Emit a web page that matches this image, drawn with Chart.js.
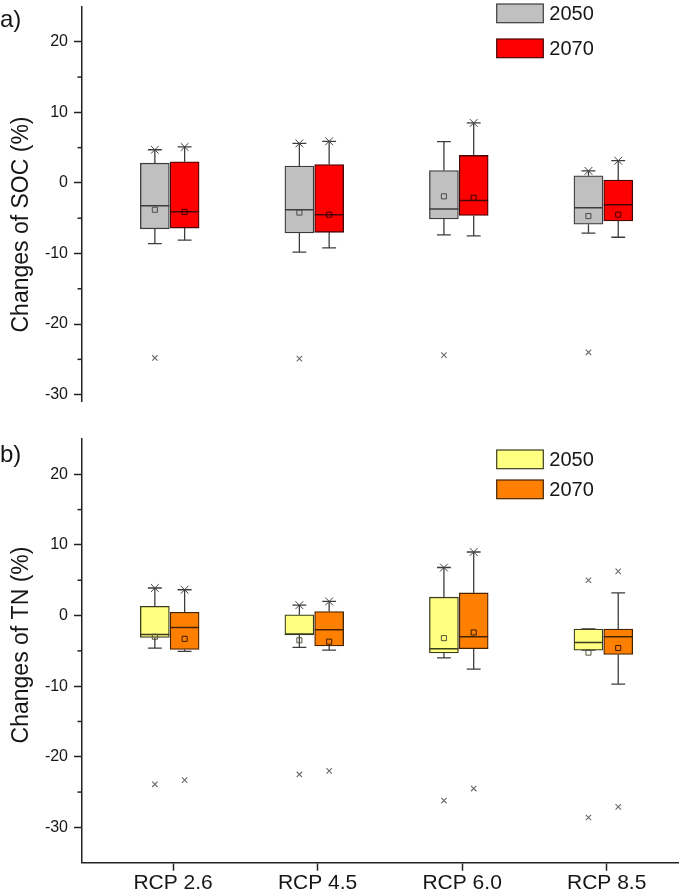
<!DOCTYPE html>
<html>
<head>
<meta charset="utf-8">
<script src="https://cdn.jsdelivr.net/npm/chart.js@4/dist/chart.umd.min.js"></script>
<style>
html,body{margin:0;padding:0;background:#fff;overflow:hidden;}
#wrap{position:relative;width:685px;height:894px;}
.panel{position:absolute;left:0;width:685px;}
</style>
</head>
<body>
<div id="wrap">
  <div class="panel" style="top:0;height:420px"><canvas id="c1" width="685" height="420"></canvas></div>
  <div class="panel" style="top:420px;height:474px"><canvas id="c2" width="685" height="474"></canvas></div>
</div>
<script>
// ---------------- DATA ----------------
const categories = ['RCP 2.6', 'RCP 4.5', 'RCP 6.0', 'RCP 8.5'];
const seriesNames = ['2050', '2070'];
const yTickLabels = [-30, -20, -10, 0, 10, 20];
const yMinorTicks = [-25, -15, -5, 5, 15];

// a) Changes of SOC (%)
const soc2050Low      = [-8.6, -9.8, -7.35, -7.1];
const soc2050Q1       = [-6.5, -7.1, -5.1, -5.85];
const soc2050Median   = [-3.25, -3.8, -3.7, -3.5];
const soc2050Q3       = [2.8, 2.4, 1.75, 1.0];
const soc2050High     = [4.7, 5.6, 5.85, 1.7];
const soc2050Mean     = [-3.8, -4.2, -1.9, -4.7];
const soc2050HighMark = [4.7, 5.6, null, 1.7];
const soc2050Outliers = [[-24.8], [-24.9], [-24.4], [-24.0]];

const soc2070Low      = [-8.1, -9.2, -7.5, -7.7];
const soc2070Q1       = [-6.4, -7.0, -4.6, -5.4];
const soc2070Median   = [-4.1, -4.5, -2.5, -3.1];
const soc2070Q3       = [3.0, 2.6, 3.9, 0.4];
const soc2070High     = [5.1, 5.9, 8.5, 3.15];
const soc2070Mean     = [-4.1, -4.5, -2.1, -4.5];
const soc2070HighMark = [5.1, 5.9, 8.5, 3.15];
const soc2070Outliers = [[], [], [], []];

// b) Changes of TN (%)
const tn2050Low      = [-4.6, -4.5, -6.0, -4.9];
const tn2050Q1       = [-3.1, -2.75, -5.3, -4.9];
const tn2050Median   = [-2.7, -2.6, -4.7, -3.8];
const tn2050Q3       = [1.3, 0.1, 2.6, -1.9];
const tn2050High     = [3.9, 1.47, 6.8, -1.9];
const tn2050Mean     = [-3.0, -3.5, -3.2, -5.25];
const tn2050HighMark = [3.9, 1.47, 6.8, null];
const tn2050Outliers = [[-23.9], [-22.5], [-26.2], [5.0, -28.6]];

const tn2070Low      = [-5.07, -4.9, -7.6, -9.7];
const tn2070Q1       = [-4.8, -4.3, -4.7, -5.5];
const tn2070Median   = [-1.7, -2.0, -3.0, -3.0];
const tn2070Q3       = [0.47, 0.57, 3.2, -1.9];
const tn2070High     = [3.65, 2.0, 9.0, 3.2];
const tn2070Mean     = [-3.3, -3.7, -2.4, -4.6];
const tn2070HighMark = [3.65, 2.0, 9.0, null];
const tn2070Outliers = [[-23.3], [-22.0], [-24.5], [6.25, -27.1]];

// ---------------- STYLE / LAYOUT ----------------
const FONT = '"Liberation Sans", Arial, Helvetica, sans-serif';
const TEXT = '#161616';
const AXIS = '#222222';
const X_MIN = 0.37, X_MAX = 4.497;
const SERIES_X_OFFSET = [-0.126, 0.08];
const BOX_HALF = 0.1;
const CAP_HALF = 0.048;
const BOX_PX = 29;

const STYLE_SOC = [
  {fill: '#C0C0C0', border: '#3c3c3c', mean: '#4a4a4a'},
  {fill: '#FF0000', border: '#4a0606', mean: '#3a0000'}
];
const STYLE_TN = [
  {fill: '#FFFF80', border: '#3c3c22', mean: '#55553a'},
  {fill: '#FF8000', border: '#472400', mean: '#3a1a00'}
];

function xAt(i, s) { return i + 1 + SERIES_X_OFFSET[s]; }

function seriesDatasets(st, s, style) {
  const whisk = [], med = [], box = [], mean = [], marks = [], outl = [];
  st.q1.forEach((q1, i) => {
    const x = xAt(i, s);
    box.push({x: x, y: [q1, st.q3[i]]});
    whisk.push(
      {x: x, y: st.q3[i]}, {x: x, y: st.high[i]}, {x: x, y: null},
      {x: x, y: q1}, {x: x, y: st.low[i]}, {x: x, y: null},
      {x: x - CAP_HALF, y: st.high[i]}, {x: x + CAP_HALF, y: st.high[i]}, {x: x, y: null},
      {x: x - CAP_HALF, y: st.low[i]}, {x: x + CAP_HALF, y: st.low[i]}, {x: x, y: null}
    );
    med.push({x: x - BOX_HALF, y: st.median[i]}, {x: x + BOX_HALF, y: st.median[i]}, {x: x, y: null});
    mean.push({x: x, y: st.mean[i]});
    if (st.highMark[i] !== null) marks.push({x: x, y: st.highMark[i]});
    st.outliers[i].forEach(v => outl.push({x: x, y: v}));
  });
  return [
    {type: 'line', label: 'whiskers', data: whisk, borderColor: '#3c3c3c', borderWidth: 1.3,
     pointRadius: 0, spanGaps: false, tension: 0, fill: false, order: 6},
    {type: 'bar', label: seriesNames[s], data: box, backgroundColor: style.fill, borderColor: style.border,
     borderWidth: 1.3, borderSkipped: false, grouped: false, barThickness: BOX_PX, order: 5 - s},
    {type: 'line', label: 'median', data: med, borderColor: style.border, borderWidth: 1.5,
     pointRadius: 0, spanGaps: false, tension: 0, fill: false, order: 3},
    {type: 'scatter', label: 'mean', data: mean, pointStyle: 'rect', pointRadius: 3.6,
     borderColor: style.mean, borderWidth: 1, backgroundColor: 'rgba(0,0,0,0)', order: 2},
    {type: 'scatter', label: 'p99', data: marks, pointStyle: 'crossRot', pointRadius: 5.5,
     borderColor: '#404040', borderWidth: 1, order: 1},
    {type: 'scatter', label: 'outliers', data: outl, pointStyle: 'crossRot', pointRadius: 3.8,
     borderColor: '#6a6a6a', borderWidth: 1.1, order: 1}
  ];
}

const decorPlugin = {
  id: 'panelDecor',
  afterDraw(chart, args, o) {
    const ctx = chart.ctx;
    const y = chart.scales.y;
    const area = chart.chartArea;
    ctx.save();
    ctx.strokeStyle = AXIS; ctx.lineWidth = 1.5;
    yMinorTicks.forEach(v => {
      const py = y.getPixelForValue(v);
      ctx.beginPath(); ctx.moveTo(area.left - 4.5, py); ctx.lineTo(area.left, py); ctx.stroke();
    });
    ctx.fillStyle = TEXT;
    ctx.font = '24px ' + FONT;
    ctx.textAlign = 'left'; ctx.textBaseline = 'alphabetic';
    ctx.fillText(o.label, o.labelX, o.labelY);
    ctx.save();
    ctx.translate(o.titleX, o.titleY);
    ctx.rotate(-Math.PI / 2);
    ctx.textAlign = 'center'; ctx.textBaseline = 'middle';
    ctx.font = '23px ' + FONT;
    ctx.fillText(o.title, 0, 0);
    ctx.restore();
    o.legend.forEach((it, k) => {
      const by = o.legendY[k];
      ctx.fillStyle = it.fill;
      ctx.fillRect(o.legendX, by, o.legendW, o.legendH);
      ctx.strokeStyle = it.border; ctx.lineWidth = 1.2;
      ctx.strokeRect(o.legendX, by, o.legendW, o.legendH);
      ctx.fillStyle = TEXT;
      ctx.font = '20px ' + FONT;
      ctx.textAlign = 'left'; ctx.textBaseline = 'middle';
      ctx.fillText(it.text, o.legendX + o.legendW + 6, by + o.legendH / 2 + 1);
    });
    ctx.restore();
  }
};

function makeChart(id, cfg) {
  return new Chart(document.getElementById(id), {
    type: 'scatter',
    data: {datasets: cfg.datasets},
    options: {
      responsive: false, animation: false, events: [],
      layout: {padding: cfg.padding},
      plugins: {legend: {display: false}, tooltip: {enabled: false}, panelDecor: cfg.decor},
      scales: {
        x: {
          type: 'linear', min: X_MIN, max: X_MAX, display: cfg.showX, offset: false,
          afterBuildTicks: s => { s.ticks = categories.map((c, i) => ({value: i + 1})); },
          afterFit: s => { s.height = cfg.xHeight; s.paddingLeft = 0; s.paddingRight = 0; },
          ticks: {callback: v => categories[Math.round(v) - 1] || '', autoSkip: false, maxRotation: 0,
                  font: {family: FONT, size: 21}, color: TEXT, padding: 0},
          grid: {offset: false, drawOnChartArea: false, drawTicks: true, tickLength: 8, tickWidth: 1.5, tickColor: AXIS},
          border: {display: true, color: AXIS, width: 1.5}
        },
        y: {
          type: 'linear', min: cfg.yMin, max: cfg.yMax,
          afterBuildTicks: s => { s.ticks = yTickLabels.map(v => ({value: v})); },
          afterFit: s => { s.width = 82; s.paddingTop = 0; s.paddingBottom = 0; },
          ticks: {font: {family: FONT, size: 16}, color: TEXT, padding: 6},
          grid: {offset: false, drawOnChartArea: false, drawTicks: true, tickLength: 8, tickWidth: 1.5, tickColor: AXIS},
          border: {display: true, color: AXIS, width: 1.5}
        }
      }
    },
    plugins: [decorPlugin]
  });
}

const socStats = [
  {low: soc2050Low, q1: soc2050Q1, median: soc2050Median, q3: soc2050Q3, high: soc2050High,
   mean: soc2050Mean, highMark: soc2050HighMark, outliers: soc2050Outliers},
  {low: soc2070Low, q1: soc2070Q1, median: soc2070Median, q3: soc2070Q3, high: soc2070High,
   mean: soc2070Mean, highMark: soc2070HighMark, outliers: soc2070Outliers}
];
const tnStats = [
  {low: tn2050Low, q1: tn2050Q1, median: tn2050Median, q3: tn2050Q3, high: tn2050High,
   mean: tn2050Mean, highMark: tn2050HighMark, outliers: tn2050Outliers},
  {low: tn2070Low, q1: tn2070Q1, median: tn2070Median, q3: tn2070Q3, high: tn2070High,
   mean: tn2070Mean, highMark: tn2070HighMark, outliers: tn2070Outliers}
];

makeChart('c1', {
  datasets: [...seriesDatasets(socStats[0], 0, STYLE_SOC[0]), ...seriesDatasets(socStats[1], 1, STYLE_SOC[1])],
  padding: {top: 5, bottom: 18.3, left: 0, right: 5},
  yMin: -31, yMax: 25, showX: false, xHeight: 0,
  decor: {label: 'a)', labelX: 0, labelY: 27, title: 'Changes of SOC (%)', titleX: 22, titleY: 224.5,
          legend: seriesNames.map((n, k) => ({text: n, fill: STYLE_SOC[k].fill, border: STYLE_SOC[k].border})),
          legendX: 496.7, legendY: [4, 39], legendW: 46.6, legendH: 18.7}
});

makeChart('c2', {
  datasets: [...seriesDatasets(tnStats[0], 0, STYLE_TN[0]), ...seriesDatasets(tnStats[1], 1, STYLE_TN[1])],
  padding: {top: 19, bottom: 0, left: 0, right: 5},
  yMin: -35, yMax: 25, showX: true, xHeight: 31.3,
  decor: {label: 'b)', labelX: 0, labelY: 42, title: 'Changes of TN (%)', titleX: 22, titleY: 225,
          legend: seriesNames.map((n, k) => ({text: n, fill: STYLE_TN[k].fill, border: STYLE_TN[k].border})),
          legendX: 496.7, legendY: [30, 60], legendW: 46.6, legendH: 18.7}
});
</script>
</body>
</html>
